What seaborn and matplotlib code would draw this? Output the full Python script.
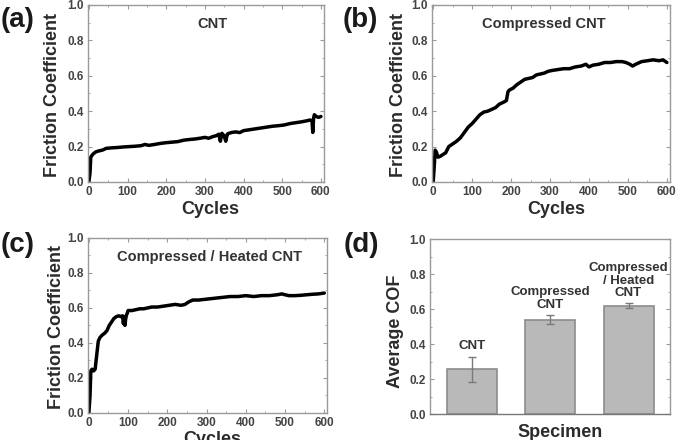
# Friction coefficient vs cycles for CNT specimens + average COF bars
# ==============================================================================
import numpy as np
import pandas as pd
import matplotlib
matplotlib.use("Agg")
import matplotlib.pyplot as plt
from matplotlib.ticker import MultipleLocator
import seaborn as sns

sns.set_style("ticks")
plt.rcParams['font.family'] = ['Liberation Sans', 'DejaVu Sans']
plt.rcParams['font.weight'] = 'bold'

# Datos
# ==============================================================================
cyc_a = [0, 3, 5, 8, 12, 18, 25, 35, 45, 60, 75, 90, 105, 120, 135, 145, 155, 170, 185, 200,
         215, 230, 245, 260, 275, 290, 300, 310, 320, 330, 336, 340, 344, 350, 354, 358, 362, 370, 380, 390,
         400, 415, 430, 445, 460, 475, 490, 505, 520, 535, 550, 562, 572, 577, 579, 581, 583, 588, 594, 600]
cof_a = [0.00, 0.05, 0.14, 0.15, 0.16, 0.17, 0.175, 0.18, 0.19, 0.193, 0.195, 0.198, 0.200, 0.202, 0.205, 0.212, 0.207, 0.212, 0.218, 0.222,
         0.225, 0.228, 0.236, 0.24, 0.243, 0.248, 0.252, 0.247, 0.256, 0.262, 0.27, 0.23, 0.275, 0.26, 0.23, 0.27, 0.275, 0.28, 0.283, 0.279,
         0.29, 0.295, 0.30, 0.305, 0.31, 0.315, 0.318, 0.322, 0.33, 0.335, 0.34, 0.345, 0.35, 0.345, 0.28, 0.36, 0.38, 0.37, 0.365, 0.37]

cyc_b = [0, 3, 5, 8, 12, 18, 25, 32, 40, 50, 60, 70, 80, 90, 100, 110, 120, 130, 140, 150,
         160, 170, 180, 188, 192, 196, 205, 215, 225, 235, 245, 255, 265, 275, 285, 295, 305, 320, 335, 350,
         365, 380, 392, 400, 410, 425, 440, 455, 470, 485, 495, 505, 512, 520, 535, 550, 565, 580, 590, 600]
cof_b = [0.00, 0.10, 0.18, 0.17, 0.14, 0.145, 0.155, 0.165, 0.20, 0.215, 0.23, 0.25, 0.28, 0.31, 0.33, 0.355, 0.38, 0.395, 0.40, 0.41,
         0.42, 0.44, 0.45, 0.46, 0.51, 0.52, 0.53, 0.55, 0.565, 0.58, 0.585, 0.59, 0.605, 0.61, 0.615, 0.625, 0.63, 0.635, 0.64, 0.64,
         0.65, 0.655, 0.665, 0.65, 0.66, 0.665, 0.675, 0.675, 0.68, 0.68, 0.675, 0.665, 0.655, 0.665, 0.68, 0.685, 0.69, 0.685, 0.69, 0.675]

cyc_c = [0, 3, 5, 8, 12, 16, 20, 24, 28, 34, 40, 46, 52, 58, 64, 70, 76, 82, 86, 88,
         90, 92, 94, 96, 98, 100, 110, 120, 130, 140, 150, 160, 175, 190, 205, 220, 235, 245, 255, 265,
         280, 300, 320, 340, 360, 380, 400, 420, 440, 460, 480, 492, 500, 510, 525, 540, 555, 570, 585, 600]
cof_c = [0.00, 0.10, 0.24, 0.25, 0.24, 0.25, 0.33, 0.41, 0.43, 0.445, 0.455, 0.47, 0.50, 0.52, 0.54, 0.55, 0.555, 0.55, 0.555, 0.51,
         0.55, 0.50, 0.54, 0.56, 0.57, 0.585, 0.585, 0.59, 0.595, 0.595, 0.60, 0.605, 0.605, 0.61, 0.615, 0.62, 0.615, 0.62, 0.635, 0.645,
         0.645, 0.65, 0.655, 0.66, 0.665, 0.665, 0.67, 0.665, 0.67, 0.67, 0.675, 0.68, 0.675, 0.67, 0.67, 0.672, 0.675, 0.678, 0.68, 0.685]

specimens = ["CNT", "Compressed\nCNT", "Compressed\n/ Heated\nCNT"]
avg_cof = [0.255, 0.54, 0.62]
cof_err = [0.072, 0.025, 0.012]

# Estilo comun
# ==============================================================================
TXT = '#2b2b2b'
SPINE = '#9a9a9a'


def style_ax(ax, xmajor=None, xminor=None):
    for s in ax.spines.values():
        s.set_color(SPINE)
        s.set_linewidth(1.0)
    ax.set_ylim(0, 1.0)
    ax.yaxis.set_major_locator(MultipleLocator(0.2))
    ax.yaxis.set_minor_locator(MultipleLocator(0.1))
    if xmajor is not None:
        ax.xaxis.set_major_locator(MultipleLocator(xmajor))
        ax.xaxis.set_minor_locator(MultipleLocator(xminor))
    ax.tick_params(which='both', direction='in', top=True, right=True,
                   color=SPINE, labelsize=8.5, labelcolor='#444444', pad=3)
    ax.tick_params(which='major', length=3, width=0.8)
    ax.tick_params(which='minor', length=1.5, width=0.6)
    for lab in ax.get_xticklabels() + ax.get_yticklabels():
        lab.set_fontweight('bold')
    ax.yaxis.set_major_formatter(plt.FuncFormatter(lambda v, p: f"{v:.1f}"))


def line_panel(ax, x, y, title, tx, ylab_x):
    sns.lineplot(x=x, y=y, ax=ax, color='black', lw=2.5, sort=False)
    ax.set_xlim(-3, 608)
    style_ax(ax, 100, 50)
    ax.set_xlabel('Cycles', fontsize=13, fontweight='bold', color=TXT)
    ax.set_ylabel('Friction Coefficient', fontsize=13, fontweight='bold', color=TXT)
    ax.xaxis.set_label_coords(0.52, -0.105)
    ax.yaxis.set_label_coords(ylab_x, 0.49)
    ax.text(tx, 0.89, title, transform=ax.transAxes, ha='center', va='center',
            fontsize=10.5, fontweight='bold', color='#333333')


fig = plt.figure(figsize=(6.85, 4.40), dpi=100)
ax_a = fig.add_axes([0.128, 0.5864, 0.345, 0.4023])
ax_b = fig.add_axes([0.6307, 0.5864, 0.3474, 0.4023])
ax_c = fig.add_axes([0.128, 0.0614, 0.350, 0.398])
ax_d = fig.add_axes([0.6277, 0.059, 0.3504, 0.3977])

line_panel(ax_a, cyc_a, cof_a, 'CNT', 0.53, -0.115)
line_panel(ax_b, cyc_b, cof_b, 'Compressed CNT', 0.47, -0.105)
line_panel(ax_c, cyc_c, cof_c, 'Compressed / Heated CNT', 0.51, -0.093)

# Barras COF promedio
# ==============================================================================
df_bar = pd.DataFrame({'Specimen': specimens, 'COF': avg_cof})
sns.barplot(data=df_bar, x='Specimen', y='COF', ax=ax_d, color='#b9b9b9',
            edgecolor='#8c8c8c', linewidth=1.2, width=0.64, errorbar=None,
            saturation=1)
ax_d.errorbar(x=np.arange(len(specimens)), y=avg_cof, yerr=cof_err, fmt='none',
              ecolor='#7a7a7a', elinewidth=1.0, capsize=3, capthick=1.0)
for i, (lab, v, e) in enumerate(zip(specimens, avg_cof, cof_err)):
    ax_d.text(i, v + e + 0.025, lab, ha='center', va='bottom', fontsize=9.5,
              fontweight='bold', color='#333333', linespacing=1.05)
ax_d.set_xlim(-0.54, 2.53)
style_ax(ax_d)
ax_d.tick_params(axis='x', which='both', bottom=False, top=False, labelbottom=False)
ax_d.spines['bottom'].set_color('#777777')
ax_d.set_xlabel('Specimen', fontsize=13, fontweight='bold', color=TXT)
ax_d.set_ylabel('Average COF', fontsize=13, fontweight='bold', color=TXT)
ax_d.xaxis.set_label_coords(0.54, -0.055)
ax_d.yaxis.set_label_coords(-0.109, 0.47)

# Etiquetas de panel
# ==============================================================================
for lab, (px, py) in zip(['(a)', '(b)', '(c)', '(d)'],
                         [(0.025, 0.955), (0.5255, 0.955), (0.025, 0.443), (0.528, 0.443)]):
    fig.text(px, py, lab, ha='center', va='center', fontsize=20, fontweight='bold', color='#1a1a1a')

plt.savefig('out.png', dpi=100)
